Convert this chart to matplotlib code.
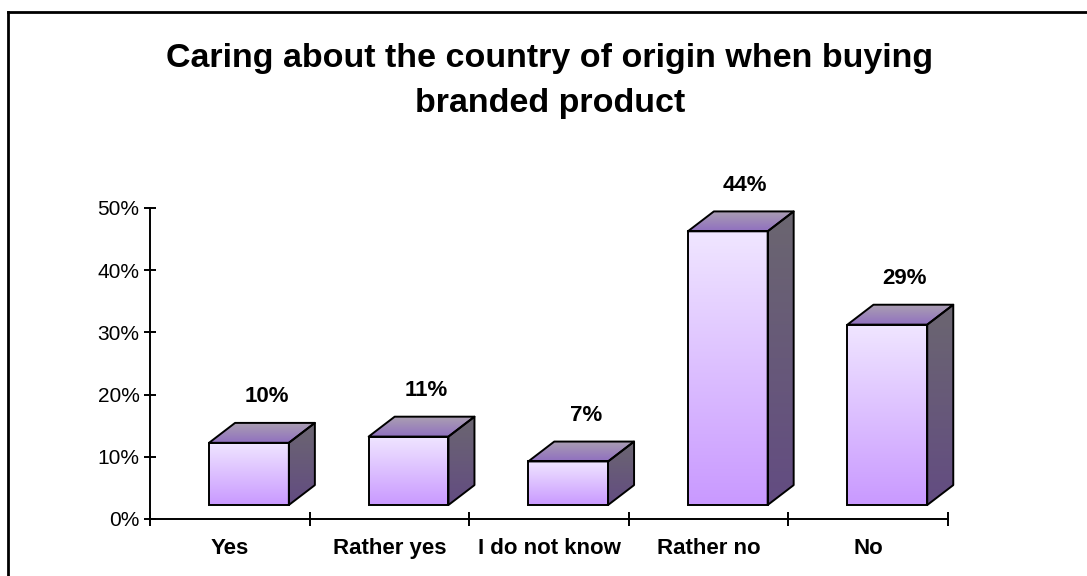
import numpy as np
import matplotlib

matplotlib.use("Agg")
import matplotlib.pyplot as plt  # noqa: E402
from matplotlib.colors import LinearSegmentedColormap  # noqa: E402
from matplotlib.lines import Line2D  # noqa: E402
from matplotlib.patches import Polygon  # noqa: E402
from matplotlib.ticker import PercentFormatter  # noqa: E402

plt.rcParams["font.family"] = ["Liberation Sans", "DejaVu Sans"]

TITLE_LINES = ["Caring about the country of origin when buying", "branded product"]
categories = ["Yes", "Rather yes", "I do not know", "Rather no", "No"]
shares = [0.10, 0.11, 0.07, 0.44, 0.29]
y_ticks = [0.0, 0.1, 0.2, 0.3, 0.4, 0.5]

# fake-3D box geometry, in data units
BAR_X0, BAR_W = 0.37, 0.50   # front face inside each category slot
DEPTH_X, DEPTH_Y = 0.163, 0.032
LIFT = 0.0225                # boxes stand on a floor slightly above the axis
X_PAD = 0.25                 # room on the right for the last box's side

FRONT = ("#C999FF", "#F0E6FF")   # bottom, top
SIDE = ("#634C82", "#6B6670")
TOP = ("#9070C0", "#AA9EB2")
EDGE_KW = dict(facecolor="none", edgecolor="black", linewidth=1.4, zorder=2)


def gradient_fill(ax, patch, colors, extent):
    cmap = LinearSegmentedColormap.from_list("g", list(colors))
    grad = np.linspace(0, 1, 256).reshape(-1, 1)
    im = ax.imshow(grad, cmap=cmap, extent=extent, origin="lower",
                   aspect="auto", zorder=1.5, interpolation="bilinear")
    im.set_clip_path(patch)
    return im


n = len(categories)
slot_px = (948 - 150) / n
fig = plt.figure(figsize=(10.87, 5.76), dpi=100)
ax = fig.add_axes([150 / 1087, 57 / 576, slot_px * (n + X_PAD) / 1087, (519 - 208) / 576])

x = np.arange(n)
bars = ax.bar(x + BAR_X0, shares, BAR_W, bottom=LIFT, align="edge", **EDGE_KW)

for xi, v, rect in zip(x, shares, bars):
    x0, x1 = xi + BAR_X0, xi + BAR_X0 + BAR_W
    y0, y1 = LIFT, v + LIFT
    gradient_fill(ax, rect, FRONT, (x0, x1, y0, y1))

    side = Polygon([(x1, y0), (x1 + DEPTH_X, y0 + DEPTH_Y),
                    (x1 + DEPTH_X, y1 + DEPTH_Y), (x1, y1)],
                   closed=True, joinstyle="round", **EDGE_KW)
    ax.add_patch(side)
    gradient_fill(ax, side, SIDE, (x1, x1 + DEPTH_X, y0, y1 + DEPTH_Y))

    top = Polygon([(x0, y1), (x1, y1), (x1 + DEPTH_X, y1 + DEPTH_Y),
                   (x0 + DEPTH_X, y1 + DEPTH_Y)],
                  closed=True, joinstyle="round", **EDGE_KW)
    ax.add_patch(top)
    gradient_fill(ax, top, TOP, (x0, x1 + DEPTH_X, y1, y1 + DEPTH_Y))

    ax.annotate(f"{v:.0%}", xy=(xi + 0.73, y1), xytext=(0, 46),
                textcoords="offset pixels", ha="center", va="center",
                fontsize=16, fontweight="bold", annotation_clip=False)

ax.set_xlim(0, n + X_PAD)
ax.set_ylim(0, 0.5)

for side_name in ("top", "right"):
    ax.spines[side_name].set_visible(False)
for side_name in ("left", "bottom"):
    ax.spines[side_name].set_linewidth(1.4)
ax.spines["bottom"].set_bounds(0, n)

ax.set_yticks(y_ticks)
ax.yaxis.set_major_formatter(PercentFormatter(1.0, decimals=0))
ax.tick_params(axis="y", direction="inout", length=9, width=1.4,
               labelsize=15, pad=3)

ax.set_xticks(np.arange(n + 1))
ax.set_xticklabels([])
ax.set_xticks(x + 0.5, minor=True)
ax.set_xticklabels(categories, minor=True, fontsize=16, fontweight="bold")
ax.tick_params(axis="x", which="major", direction="inout", length=10, width=1.4)
ax.tick_params(axis="x", which="minor", length=0, pad=14)

for line, baseline in zip(TITLE_LINES, (67, 112)):
    fig.text(550 / 1087, 1 - baseline / 576, line, ha="center", va="baseline",
             fontsize=24.5, fontweight="bold")

# chart-area border: only the top and left edges fall inside the image
fig.add_artist(Line2D([8 / 1087, 8 / 1087], [0, 1 - 12 / 576],
                      color="black", linewidth=2))
fig.add_artist(Line2D([8 / 1087, 1], [1 - 12 / 576, 1 - 12 / 576],
                      color="black", linewidth=2))

fig.savefig("out.png", dpi=100)
